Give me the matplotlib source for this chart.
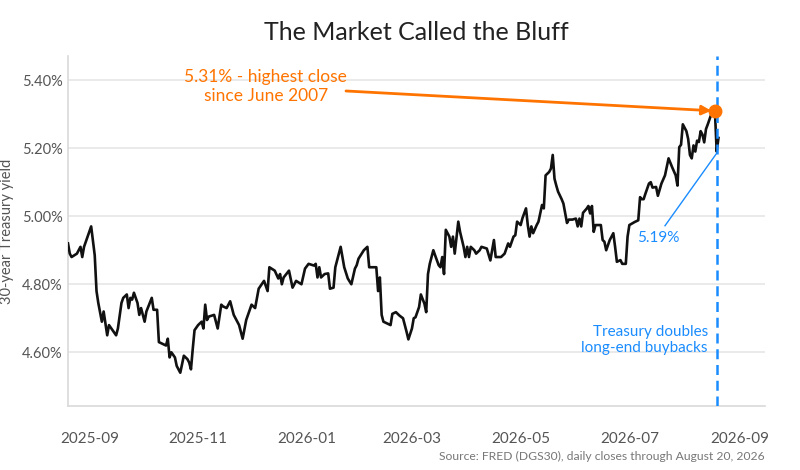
import pandas as pd
import matplotlib
matplotlib.use("Agg")
from matplotlib import pyplot as plt
import matplotlib.dates as mdates
from matplotlib.ticker import FuncFormatter

plt.rcParams['font.family'] = ['Lato', 'DejaVu Sans']

# daily 30y closes (turning points)
dates = [
    "2025-08-20", "2025-08-21", "2025-08-22", "2025-08-25", "2025-08-27", "2025-08-28", "2025-08-29",
    "2025-08-31", "2025-09-02", "2025-09-04", "2025-09-05", "2025-09-06", "2025-09-08", "2025-09-09",
    "2025-09-10", "2025-09-11", "2025-09-12", "2025-09-14", "2025-09-16", "2025-09-17", "2025-09-19",
    "2025-09-20", "2025-09-22", "2025-09-23", "2025-09-24", "2025-09-25", "2025-09-26", "2025-09-28",
    "2025-09-29", "2025-09-30", "2025-10-02", "2025-10-03", "2025-10-06", "2025-10-07", "2025-10-09",
    "2025-10-10", "2025-10-12", "2025-10-14", "2025-10-15", "2025-10-16", "2025-10-17", "2025-10-19",
    "2025-10-20", "2025-10-22", "2025-10-24", "2025-10-26", "2025-10-27", "2025-10-28", "2025-10-29",
    "2025-10-30", "2025-11-01", "2025-11-03", "2025-11-04", "2025-11-05", "2025-11-06", "2025-11-07",
    "2025-11-10", "2025-11-12", "2025-11-14", "2025-11-15", "2025-11-17", "2025-11-19", "2025-11-21",
    "2025-11-24", "2025-11-26", "2025-11-28", "2025-12-01", "2025-12-03", "2025-12-05", "2025-12-08",
    "2025-12-10", "2025-12-11", "2025-12-14", "2025-12-16", "2025-12-17", "2025-12-18", "2025-12-19",
    "2025-12-22", "2025-12-24", "2025-12-26", "2025-12-29", "2025-12-31", "2026-01-02", "2026-01-05",
    "2026-01-06", "2026-01-07", "2026-01-08", "2026-01-09", "2026-01-11", "2026-01-13", "2026-01-14",
    "2026-01-16", "2026-01-17", "2026-01-20", "2026-01-22", "2026-01-24", "2026-01-26", "2026-01-28",
    "2026-01-29", "2026-01-30", "2026-02-02", "2026-02-04", "2026-02-05", "2026-02-09", "2026-02-10",
    "2026-02-11", "2026-02-12", "2026-02-13", "2026-02-17", "2026-02-18", "2026-02-20", "2026-02-22",
    "2026-02-24", "2026-02-26", "2026-02-27", "2026-03-01", "2026-03-02", "2026-03-03", "2026-03-05",
    "2026-03-06", "2026-03-08", "2026-03-09", "2026-03-10", "2026-03-11", "2026-03-13", "2026-03-14",
    "2026-03-16", "2026-03-17", "2026-03-18", "2026-03-19", "2026-03-20", "2026-03-22", "2026-03-23",
    "2026-03-24", "2026-03-25", "2026-03-27", "2026-03-28", "2026-03-30", "2026-03-31", "2026-04-01",
    "2026-04-02", "2026-04-03", "2026-04-05", "2026-04-06", "2026-04-08", "2026-04-09", "2026-04-12",
    "2026-04-14", "2026-04-16", "2026-04-17", "2026-04-20", "2026-04-22", "2026-04-24", "2026-04-25",
    "2026-04-27", "2026-04-28", "2026-04-29", "2026-05-01", "2026-05-02", "2026-05-04", "2026-05-05",
    "2026-05-06", "2026-05-07", "2026-05-08", "2026-05-10", "2026-05-11", "2026-05-13", "2026-05-14",
    "2026-05-15", "2026-05-17", "2026-05-18", "2026-05-19", "2026-05-20", "2026-05-21", "2026-05-22",
    "2026-05-24", "2026-05-25", "2026-05-27", "2026-05-28", "2026-05-30", "2026-06-01", "2026-06-02",
    "2026-06-03", "2026-06-04", "2026-06-05", "2026-06-07", "2026-06-08", "2026-06-09", "2026-06-10",
    "2026-06-11", "2026-06-12", "2026-06-15", "2026-06-16", "2026-06-17", "2026-06-18", "2026-06-20",
    "2026-06-22", "2026-06-23", "2026-06-24", "2026-06-26", "2026-06-27", "2026-06-29", "2026-06-30",
    "2026-07-01", "2026-07-04", "2026-07-06", "2026-07-07", "2026-07-08", "2026-07-09", "2026-07-10",
    "2026-07-12", "2026-07-13", "2026-07-14", "2026-07-16", "2026-07-17", "2026-07-19", "2026-07-21",
    "2026-07-23", "2026-07-25", "2026-07-27", "2026-07-28", "2026-07-29", "2026-07-30", "2026-07-31",
    "2026-08-02", "2026-08-03", "2026-08-04", "2026-08-05", "2026-08-06", "2026-08-07", "2026-08-08",
    "2026-08-09", "2026-08-10", "2026-08-11", "2026-08-12", "2026-08-13", "2026-08-14", "2026-08-16",
    "2026-08-18", "2026-08-19", "2026-08-20",
]
yields = [
    4.92, 4.89, 4.88, 4.89, 4.91, 4.88, 4.91,
    4.94, 4.97, 4.885, 4.78, 4.745, 4.69, 4.72,
    4.685, 4.65, 4.68, 4.665, 4.65, 4.67, 4.745,
    4.76, 4.77, 4.73, 4.76, 4.755, 4.775, 4.745,
    4.71, 4.73, 4.69, 4.72, 4.76, 4.725, 4.725,
    4.63, 4.625, 4.62, 4.64, 4.585, 4.60, 4.585,
    4.56, 4.54, 4.59, 4.58, 4.57, 4.55, 4.61,
    4.665, 4.68, 4.69, 4.67, 4.74, 4.695, 4.705,
    4.71, 4.67, 4.74, 4.735, 4.73, 4.75, 4.71,
    4.68, 4.64, 4.695, 4.74, 4.73, 4.787, 4.81,
    4.78, 4.85, 4.84, 4.817, 4.83, 4.80, 4.82,
    4.84, 4.79, 4.81, 4.80, 4.846, 4.86, 4.855,
    4.86, 4.82, 4.85, 4.82, 4.83, 4.832, 4.787,
    4.79, 4.85, 4.91, 4.85, 4.817, 4.80, 4.846,
    4.856, 4.875, 4.90, 4.91, 4.85, 4.85, 4.78,
    4.82, 4.71, 4.69, 4.68, 4.713, 4.718, 4.708,
    4.70, 4.66, 4.638, 4.67, 4.70, 4.703, 4.733,
    4.77, 4.743, 4.718, 4.83, 4.86, 4.90, 4.885,
    4.856, 4.85, 4.88, 4.83, 4.96, 4.94, 4.91,
    4.94, 4.89, 4.984, 4.954, 4.91, 4.88, 4.91,
    4.88, 4.91, 4.90, 4.89, 4.90, 4.91, 4.905,
    4.87, 4.93, 4.88, 4.88, 4.89, 4.92, 4.91,
    4.94, 4.944, 4.984, 4.974, 4.994, 5.023, 4.974,
    4.94, 4.97, 4.95, 4.974, 4.984, 5.033, 5.023,
    5.12, 5.13, 5.14, 5.18, 5.11, 5.09, 5.072,
    5.05, 5.037, 4.98, 4.99, 4.99, 4.993, 4.97,
    4.993, 4.97, 5.01, 5.022, 5.03, 5.008, 5.03,
    4.954, 4.974, 4.974, 4.93, 4.925, 4.90, 4.93,
    4.95, 4.91, 4.866, 4.871, 4.86, 4.86, 4.94,
    4.974, 4.983, 4.988, 5.056, 5.05, 5.05, 5.066,
    5.096, 5.10, 5.084, 5.086, 5.06, 5.096, 5.12,
    5.17, 5.144, 5.12, 5.09, 5.203, 5.21, 5.27,
    5.25, 5.227, 5.18, 5.17, 5.208, 5.19, 5.222,
    5.218, 5.25, 5.24, 5.217, 5.256, 5.27, 5.30,
    5.31, 5.19, 5.23,
]

peak_date = "2026-08-18"
peak_value = 5.31
event_date = "2026-08-19"
low_value = 5.19

orange = '#ff7400'
blue = '#1a8cff'

df = pd.DataFrame({'date': pd.to_datetime(dates), 'y': yields})

fig = plt.figure(figsize=(8, 4.7), dpi=100)
ax = fig.add_axes([0.085, 0.136, 0.871, 0.745])

ax.plot(df['date'], df['y'], color='#111111', lw=1.9, zorder=3)

ax.set_xlim(pd.Timestamp("2025-08-20"), pd.Timestamp("2026-09-15"))
ax.set_ylim(4.442, 5.471)
ax.set_yticks([4.6, 4.8, 5.0, 5.2, 5.4])
ax.yaxis.set_major_formatter(FuncFormatter(lambda v, p: '%.2f%%' % v))
ax.xaxis.set_major_locator(mdates.MonthLocator(bymonth=[1, 3, 5, 7, 9, 11]))
ax.xaxis.set_major_formatter(mdates.DateFormatter('%Y-%m'))

ax.grid(axis='y', color='#e6e6e6', lw=1.2)
ax.set_axisbelow(True)
for s in ['top', 'right']:
    ax.spines[s].set_visible(False)
for s in ['left', 'bottom']:
    ax.spines[s].set_color('#d9d9d9')
    ax.spines[s].set_linewidth(1.2)
ax.tick_params(axis='both', length=0, labelcolor='#555555')
ax.tick_params(axis='x', pad=19, labelsize=11)
ax.tick_params(axis='y', pad=4, labelsize=10.5)
ax.set_ylabel('30-year Treasury yield', fontsize=10.5, color='#555555')
ax.yaxis.set_label_coords(-0.077, 0.5)

# event line
ax.axvline(pd.Timestamp(event_date), color=blue, lw=1.8, dashes=(4, 2.3), zorder=4)
ax.text(pd.Timestamp("2026-08-14"), 4.636, 'Treasury doubles\nlong-end buybacks',
        color=blue, fontsize=11, ha='right', va='center', linespacing=1.2)

# peak annotation
ax.plot(pd.Timestamp(peak_date), peak_value, 'o', color=orange, ms=9, zorder=6)
ax.annotate('', xy=(pd.Timestamp("2026-08-16"), peak_value),
            xytext=(pd.Timestamp("2026-01-23"), 5.368),
            arrowprops=dict(arrowstyle='-|>', color=orange, lw=2, mutation_scale=14,
                            shrinkA=0, shrinkB=0), zorder=5)
ax.text(pd.Timestamp("2025-12-09"), 5.382, '5.31% - highest close\nsince June 2007',
        color=orange, fontsize=12.5, ha='center', va='center', linespacing=1.2)

# low annotation
ax.plot([pd.Timestamp("2026-07-21"), pd.Timestamp(event_date)], [4.972, low_value - 0.005],
        color=blue, lw=1, zorder=4)
ax.text(pd.Timestamp("2026-07-17"), 4.937, '5.19%', color=blue, fontsize=11,
        ha='center', va='center')

fig.text(0.52, 0.93, 'The Market Called the Bluff', fontsize=18, color='#222222',
         ha='center', va='center')
fig.text(0.956, 0.028, 'Source: FRED (DGS30), daily closes through August 20, 2026',
         fontsize=8.7, color='#777777', ha='right', va='center')

plt.savefig('out.png', dpi=100)
